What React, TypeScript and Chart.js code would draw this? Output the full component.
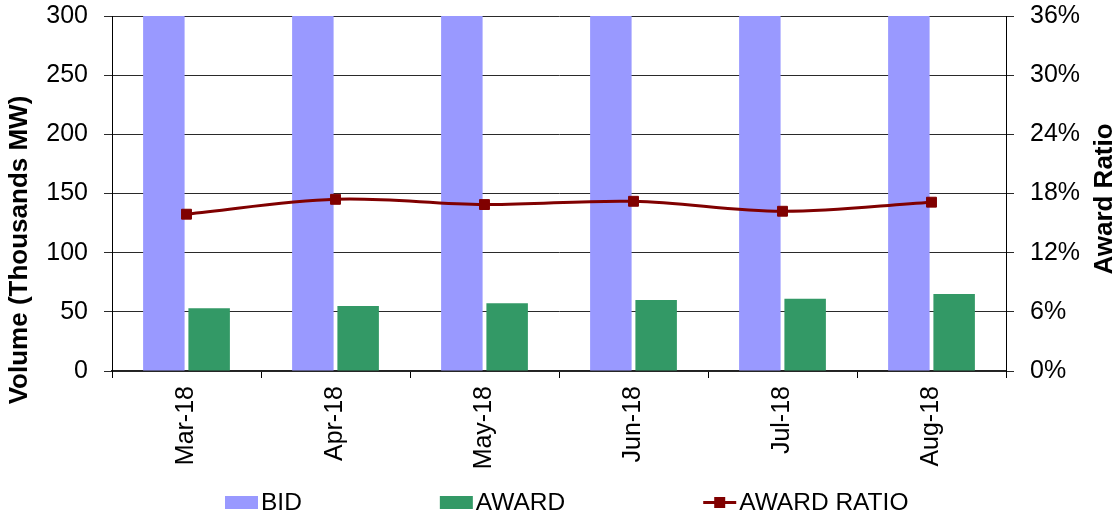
import React, { useEffect, useRef } from "react";
import { Chart, registerables } from "chart.js";

Chart.register(...registerables);

const categories = ["Mar-18", "Apr-18", "May-18", "Jun-18", "Jul-18", "Aug-18"];
const bidValues = [333, 315, 339, 349, 377, 380];
const awardValues = [53, 54.9, 57.2, 60, 61, 65.1];
const awardRatioPct = [15.9, 17.41, 16.88, 17.21, 16.2, 17.12];
const leftTicks = [0, 50, 100, 150, 200, 250, 300];
const rightTicks = [0, 6, 12, 18, 24, 30, 36];

const FONT = "'Liberation Sans', Arial, sans-serif";
const BID_COLOR = "#9999FF";
const AWARD_COLOR = "#339966";
const RATIO_COLOR = "#800000";

const overlayPlugin = {
  id: "overlay",
  afterDraw(chart: any) {
    const ctx = chart.ctx as CanvasRenderingContext2D;
    ctx.save();
    ctx.fillStyle = "#000";
    ctx.font = `bold 26px ${FONT}`;
    ctx.textAlign = "center";
    ctx.textBaseline = "middle";
    ctx.save();
    ctx.translate(20, 250);
    ctx.rotate(-Math.PI / 2);
    ctx.fillText("Volume (Thousands MW)", 0, 0);
    ctx.restore();
    ctx.save();
    ctx.translate(1105, 199);
    ctx.rotate(-Math.PI / 2);
    ctx.fillText("Award Ratio", 0, 0);
    ctx.restore();

    ctx.font = `24.5px ${FONT}`;
    ctx.textAlign = "left";
    ctx.textBaseline = "middle";
    const cy = 502.5;
    const items = [
      { label: "BID", type: "box", color: BID_COLOR },
      { label: "AWARD", type: "box", color: AWARD_COLOR },
      { label: "AWARD RATIO", type: "line", color: RATIO_COLOR },
    ];
    let x = 225;
    for (const it of items) {
      if (it.type === "box") {
        ctx.fillStyle = it.color;
        ctx.fillRect(x, cy - 6.5, 33, 13);
      } else {
        ctx.strokeStyle = it.color;
        ctx.lineWidth = 3;
        ctx.beginPath();
        ctx.moveTo(x, cy);
        ctx.lineTo(x + 33, cy);
        ctx.stroke();
        ctx.fillStyle = it.color;
        ctx.fillRect(x + 16.5 - 5.5, cy - 5.5, 11, 11);
      }
      ctx.fillStyle = "#000";
      ctx.fillText(it.label, x + 36, cy + 1);
      const w = ctx.measureText(it.label).width;
      x += 36 + w + 138;
    }
    ctx.restore();
  },
};

export default function App() {
  const canvasRef = useRef<HTMLCanvasElement | null>(null);

  useEffect(() => {
    const canvas = canvasRef.current;
    if (!canvas) return;
    const chart = new Chart(canvas, {
      type: "bar",
      data: {
        labels: categories,
        datasets: [
          {
            type: "line",
            label: "AWARD RATIO",
            data: awardRatioPct,
            yAxisID: "y1",
            borderColor: RATIO_COLOR,
            backgroundColor: RATIO_COLOR,
            borderWidth: 3,
            tension: 0.35,
            pointStyle: "rect",
            pointRadius: 7,
            pointBorderWidth: 1,
            pointBackgroundColor: RATIO_COLOR,
            pointBorderColor: RATIO_COLOR,
            order: 0,
          } as any,
          {
            label: "BID",
            data: bidValues,
            yAxisID: "y",
            backgroundColor: BID_COLOR,
            categoryPercentage: 0.608,
            barPercentage: 0.916,
            order: 1,
          },
          {
            label: "AWARD",
            data: awardValues,
            yAxisID: "y",
            backgroundColor: AWARD_COLOR,
            categoryPercentage: 0.608,
            barPercentage: 0.916,
            order: 2,
          },
        ],
      },
      options: {
        responsive: false,
        animation: false,
        devicePixelRatio: 1,
        layout: { padding: { top: 16, left: 0, right: 0, bottom: 0 } },
        plugins: {
          legend: { display: false },
          tooltip: { enabled: false },
          title: { display: false },
        },
        scales: {
          x: {
            type: "category",
            offset: true,
            grid: {
              offset: true,
              drawOnChartArea: false,
              tickLength: 7,
              color: "#000",
            },
            border: { color: "#222", width: 1.5 },
            ticks: {
              minRotation: 90,
              maxRotation: 90,
              padding: 8,
              color: "#000",
              font: { size: 25, family: FONT },
            },
            afterFit: (s: any) => {
              s.height = 146;
              s.paddingLeft = 0;
              s.paddingRight = 0;
            },
          },
          y: {
            position: "left",
            min: 0,
            max: 300,
            afterBuildTicks: (s: any) => {
              s.ticks = leftTicks.map((v) => ({ value: v }));
            },
            ticks: {
              padding: 16,
              color: "#000",
              font: { size: 25, family: FONT },
            },
            grid: { color: "#2a2a2a", tickLength: 8, lineWidth: 1 },
            border: { color: "#000", width: 1 },
            afterFit: (s: any) => {
              s.width = 112;
              s.paddingTop = 0;
              s.paddingBottom = 0;
            },
          },
          y1: {
            position: "right",
            min: 0,
            max: 36,
            afterBuildTicks: (s: any) => {
              s.ticks = rightTicks.map((v) => ({ value: v }));
            },
            ticks: {
              padding: 16,
              color: "#000",
              font: { size: 25, family: FONT },
              callback: (v: any) => `${v}%`,
            },
            grid: { drawOnChartArea: false, color: "#2a2a2a", tickLength: 8 },
            border: { color: "#000", width: 1 },
            afterFit: (s: any) => {
              s.width = 114;
              s.paddingTop = 0;
              s.paddingBottom = 0;
            },
          },
        },
      },
      plugins: [overlayPlugin],
    });
    return () => chart.destroy();
  }, []);

  return (
    <div
      style={{
        position: "fixed",
        left: 0,
        top: 0,
        width: 1120,
        height: 517,
        background: "#fff",
      }}
    >
      <canvas ref={canvasRef} width={1120} height={517} />
    </div>
  );
}
